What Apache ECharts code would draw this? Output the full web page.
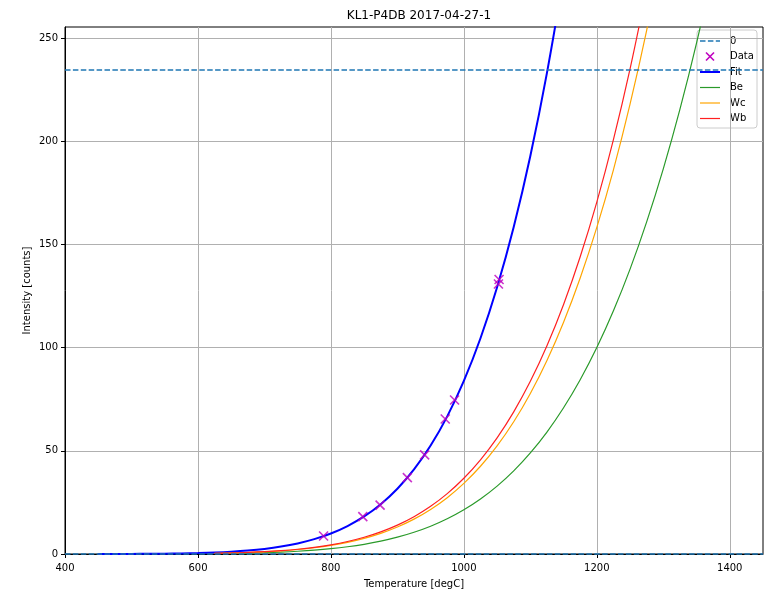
<!DOCTYPE html>
<html>
<head>
<meta charset="utf-8">
<title>KL1-P4DB 2017-04-27-1</title>
<script src="https://cdn.jsdelivr.net/npm/echarts@6/dist/echarts.min.js"></script>
<style>
  html, body { margin: 0; padding: 0; background: #fff; }
  #chart { width: 767px; height: 592px; }
</style>
</head>
<body>
<div id="chart"></div>
<script>
// Temperature grid (degC) shared by the model curves
const temps = [450, 475, 500, 525, 550, 575, 600, 625, 650, 675, 700, 725, 750, 775, 800, 825, 850, 875,
  900, 925, 950, 975, 1000, 1025, 1050, 1075, 1100, 1125, 1150, 1175, 1200, 1225, 1250, 1275, 1300, 1325, 1350, 1375];

// Fitted intensity [counts]
const fitCounts = [0.014, 0.027, 0.051, 0.093, 0.161, 0.272, 0.445, 0.707, 1.097, 1.663, 2.467, 3.589, 5.126, 7.197,
  9.947, 13.55, 18.20, 24.14, 31.63, 40.97, 52.53, 66.67, 83.83, 104.5, 129.2, 158.4, 192.8, 233.1, 279.9,
  null, null, null, null, null, null, null, null, null];

// Reference curves
const beCounts = [null, null, null, null, null, null, null, 0.19, 0.29, 0.44, 0.65, 0.94, 1.34, 1.87, 2.58, 3.51,
  4.70, 6.22, 8.14, 10.53, 13.47, 17.07, 21.42, 26.65, 32.89, 40.27, 48.96, 59.09, 70.85, 84.42, 100.0, 117.8,
  138.0, 160.9, 186.6, 215.4, 247.5, 283.4];
const wcCounts = [null, null, null, null, null, null, null, 0.31, 0.48, 0.72, 1.06, 1.53, 2.17, 3.04, 4.18, 5.66,
  7.58, 10.01, 13.07, 16.88, 21.56, 27.28, 34.2, 42.5, 52.38, 64.06, 77.78, 93.77, 112.3, 133.7, 158.2, 186.1,
  217.9, 253.7, 294.0, null, null, null];
const wbCounts = [null, null, null, null, null, null, null, 0.33, 0.50, 0.76, 1.12, 1.63, 2.31, 3.24, 4.46, 6.05,
  8.10, 10.71, 13.99, 18.07, 23.11, 29.26, 36.70, 45.64, 56.28, 68.86, 83.65, 100.9, 120.9, 144.0, 170.5, 200.7,
  235.0, 273.8, null, null, null, null];

// Measured points
const dataTemps = [789, 848, 874, 915, 941, 972, 986, 1052, 1053];
const dataCounts = [8.7, 18.1, 23.7, 37.0, 48.0, 65.4, 74.6, 130.8, 133.0];

// Dashed reference levels
const levels = [0, 234.5];

// Axis ticks
const xTicks = [400, 600, 800, 1000, 1200, 1400];
const yTicks = [0, 50, 100, 150, 200, 250];

// Legend entries
const legendNames = ['0', 'Data', 'Fit', 'Be', 'Wc', 'Wb'];

function pairs(xs, ys) {
  const out = [];
  xs.forEach((x, i) => { if (ys[i] !== null) out.push([x, ys[i]]); });
  return out;
}

const FONT = 'DejaVu Sans';
const COLORS = { '0': '#1f77b4', Data: '#bf00bf', Fit: '#0000ff', Be: '#2a9a2a', Wc: '#ffa500', Wb: '#ff2020' };
const DASH = [5.5, 2.4];

const chart = echarts.init(document.getElementById('chart'), null, { renderer: 'canvas' });

const curve = (name, ys, width) => ({
  name, type: 'line', data: pairs(temps, ys), showSymbol: false, symbol: 'none',
  smooth: 0.4,
  lineStyle: { color: COLORS[name], width }, itemStyle: { color: COLORS[name] }, z: 3
});

// Legend box drawn as graphic elements (line keys, cross key, labels)
function legendGraphic() {
  const x0 = 697, y0 = 30, w = 60, h = 98, step = 15.5, first = 11;
  const children = [{
    type: 'rect', shape: { x: 0, y: 0, width: w, height: h, r: 3 },
    style: { fill: 'rgba(255,255,255,0.85)', stroke: '#cccccc', lineWidth: 1 }
  }];
  legendNames.forEach((name, i) => {
    const cy = first + i * step;
    const c = COLORS[name];
    if (name === 'Data') {
      children.push({
        type: 'polyline', shape: { points: [[9, cy - 4], [17, cy + 4]] },
        style: { stroke: c, lineWidth: 1.6, fill: null }
      }, {
        type: 'polyline', shape: { points: [[17, cy - 4], [9, cy + 4]] },
        style: { stroke: c, lineWidth: 1.6, fill: null }
      });
    } else {
      children.push({
        type: 'line', shape: { x1: 3, y1: cy, x2: 23, y2: cy },
        style: {
          stroke: c,
          lineWidth: name === '0' ? 1.5 : (name === 'Fit' ? 2 : 1.2),
          lineDash: name === '0' ? DASH : null
        }
      });
    }
    children.push({
      type: 'text', x: 33, y: cy,
      style: { text: name, fontFamily: FONT, fontSize: 10, fill: '#000', verticalAlign: 'middle', align: 'left' }
    });
  });
  return [{ type: 'group', x: x0, y: y0, z: 100, silent: true, children }];
}

chart.setOption({
  animation: false,
  backgroundColor: '#fff',
  textStyle: { fontFamily: FONT },
  title: {
    text: 'KL1-P4DB 2017-04-27-1',
    left: 414, top: 5, textAlign: 'center',
    textStyle: { fontFamily: FONT, fontSize: 12, fontWeight: 'normal', color: '#000' }
  },
  grid: {
    left: 65, right: 4, top: 27, bottom: 38,
    containLabel: false, outerBoundsMode: 'none',
    show: true, borderColor: '#000', borderWidth: 1, backgroundColor: 'transparent'
  },
  xAxis: {
    type: 'value', min: 400, max: 1450, interval: 200,
    name: 'Temperature [degC]', nameLocation: 'middle', nameGap: 25,
    nameTextStyle: { fontFamily: FONT, fontSize: 10, color: '#000' },
    axisLine: { show: true, onZero: false, lineStyle: { color: '#000', width: 1 } },
    axisTick: { show: true, length: 4, lineStyle: { color: '#000' }, customValues: xTicks },
    axisLabel: {
      fontFamily: FONT, fontSize: 10, color: '#000', margin: 9, customValues: xTicks,
      formatter: v => String(v)
    },
    splitLine: { show: true, lineStyle: { color: '#b0b0b0', width: 1 } }
  },
  yAxis: {
    type: 'value', min: 0, max: 255.3, interval: 50,
    name: 'Intensity [counts]', nameLocation: 'middle', nameGap: 33, nameRotate: 90,
    nameMoveOverlap: false,
    nameTextStyle: { fontFamily: FONT, fontSize: 10, color: '#000' },
    axisLine: { show: true, onZero: false, lineStyle: { color: '#000', width: 1 } },
    axisTick: { show: true, length: 4, lineStyle: { color: '#000' }, customValues: yTicks },
    axisLabel: {
      fontFamily: FONT, fontSize: 10, color: '#000', margin: 7, customValues: yTicks,
      formatter: v => String(v)
    },
    splitLine: { show: true, lineStyle: { color: '#b0b0b0', width: 1 } }
  },
  graphic: legendGraphic(),
  series: [
    {
      name: '0', type: 'line', data: [], symbol: 'none',
      lineStyle: { color: COLORS['0'], width: 1.5, type: DASH },
      markLine: {
        silent: true, symbol: ['none', 'none'], label: { show: false },
        lineStyle: { color: COLORS['0'], width: 1.5, type: DASH },
        data: levels.map(v => ({ yAxis: v }))
      },
      z: 2
    },
    {
      name: 'Data', type: 'scatter', data: pairs(dataTemps, dataCounts),
      symbol: 'path://M0 0L10 10M10 0L0 10', symbolSize: 9,
      itemStyle: { color: 'rgba(0,0,0,0)', borderColor: COLORS.Data, borderWidth: 1.6 },
      z: 5
    },
    curve('Fit', fitCounts, 2),
    curve('Be', beCounts, 1.2),
    curve('Wc', wcCounts, 1.2),
    curve('Wb', wbCounts, 1.2)
  ]
});
</script>
</body>
</html>
